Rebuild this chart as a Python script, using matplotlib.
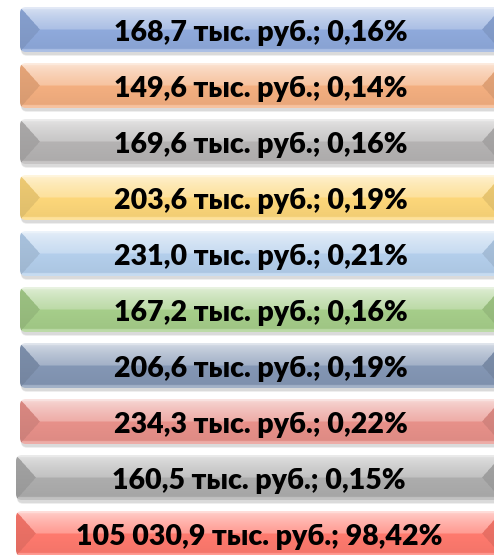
import numpy as np
import matplotlib
matplotlib.use("Agg")
import matplotlib.pyplot as plt
from matplotlib.patches import FancyBboxPatch
import matplotlib.colors as mcolors

# ---- data ----
values_thousand_rub = [168.7, 149.6, 169.6, 203.6, 231.0, 167.2, 206.6, 234.3, 160.5, 105030.9]
shares_pct = [0.16, 0.14, 0.16, 0.19, 0.21, 0.16, 0.19, 0.22, 0.15, 98.42]
box_colors = ["#8FAADC", "#F4AF80", "#B5B3B3", "#FDD77A", "#B4CFEC",
              "#A6CE8A", "#8497B5", "#E8918A", "#ADADAD", "#FF7A6E"]
unit = "тыс. руб."


def fmt_num(v, dec):
    s = f"{v:,.{dec}f}"
    s = s.replace(",", " ").replace(".", ",")
    return s


labels = [f"{fmt_num(v, 1)} {unit}; {fmt_num(p, 2)}%" for v, p in zip(values_thousand_rub, shares_pct)]

W, H = 494, 555
fig = plt.figure(figsize=(W / 100, H / 100), dpi=100)
ax = fig.add_axes([0, 0, 1, 1])
ax.set_xlim(0, W)
ax.set_ylim(H, 0)
ax.axis("off")

top0, pitch, bh = 7, 56, 45
right = 502
bevel = 20


def mix(c, t, a):
    c = np.array(c); t = np.array(t)
    return c * (1 - a) + t * a


for i, (lab, col) in enumerate(zip(labels, box_colors)):
    left = 20 if i < 8 else 16
    top = top0 + i * pitch
    bw = right - left
    # shadow
    for k, a in enumerate([0.04, 0.05, 0.06]):
        off = 4 - k
        sh = FancyBboxPatch((left + 1, top + 2 + off * 0.5), bw, bh, boxstyle="round,pad=0,rounding_size=6",
                            facecolor="black", edgecolor="none", alpha=a, zorder=1)
        ax.add_patch(sh)
    base = np.array(mcolors.to_rgb(col))
    white = np.ones(3); black = np.zeros(3)
    nx, ny = int(bw), int(bh * 2)
    xs = (np.arange(nx) + 0.5) / nx * bw
    ys = (np.arange(ny) + 0.5) / ny * bh
    X, Y = np.meshgrid(xs, ys)
    mid = bh * 0.5
    yt = np.clip(Y / mid, 0, 1)
    tf_amt = 0.7 - 0.45 * yt ** 0.7
    topc = base[None, None, :] * (1 - tf_amt[..., None]) + white * tf_amt[..., None]
    yb = np.clip((Y - mid) / (bh - mid), 0, 1)
    bot_amt = 0.05 * yb
    botc = base[None, None, :] * (1 - bot_amt[..., None]) + black * bot_amt[..., None]
    img = np.where((Y < mid)[..., None], topc, botc)
    rim = (Y > bh - 3)
    img[rim] = mix(base, white, 0.25)
    leftmask = X < bevel * (1 - np.abs(Y - mid) / mid)
    rightmask = (bw - X) < bevel * (1 - np.abs(Y - mid) / mid)
    side_amt = 0.12 - 0.06 * (1 - np.clip(Y / bh, 0, 1))
    sidec = base[None, None, :] * (1 - side_amt[..., None]) + black * side_amt[..., None]
    img[leftmask] = sidec[leftmask]
    img[rightmask] = sidec[rightmask]
    img[Y < 2.0] = mix(base, white, 0.75)
    patch = FancyBboxPatch((left, top), bw, bh, boxstyle="round,pad=0,rounding_size=6",
                           facecolor="none", edgecolor="none", zorder=2)
    ax.add_patch(patch)
    im = ax.imshow(img, extent=(left, right, top + bh, top), zorder=2, interpolation="bilinear")
    im.set_clip_path(patch)
    ax.text((left + right) / 2, top + 34, lab, ha="center", va="baseline",
            fontsize=20.5, fontweight="heavy", family=["Lato", "DejaVu Sans"], color="black", zorder=3)

ax.set_xlim(0, W)
ax.set_ylim(H, 0)
fig.savefig("out.png", dpi=100)
